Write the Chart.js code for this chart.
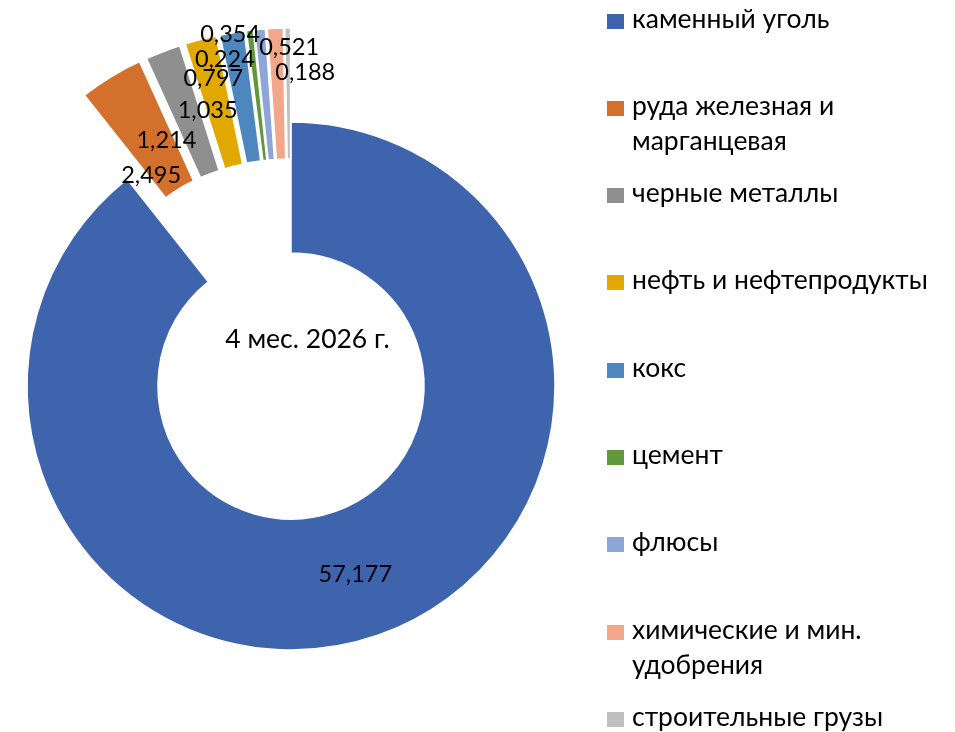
<!DOCTYPE html>
<html>
<head>
<meta charset="utf-8">
<script src="https://cdn.jsdelivr.net/npm/chart.js@4.4.1/dist/chart.umd.min.js"></script>
<style>
  html, body { margin: 0; padding: 0; background: #fff; }
  body { width: 955px; height: 732px; position: relative; overflow: hidden; font-family: Lato, "Noto Sans", sans-serif; }
  #wrap { position: absolute; left: 0; top: 0; width: 582px; height: 732px; }
  #legend { position: absolute; left: 0; top: 0; width: 955px; height: 732px; pointer-events: none; }
  .li { position: absolute; left: 607px; width: 340px; }
  .sw { position: absolute; left: 0; width: 17px; height: 15px; }
  .tx { position: absolute; left: 25px; width: 312px; font-size: 26.5px; line-height: 35px; color: #000; white-space: normal; }
</style>
</head>
<body>
<div id="wrap"><canvas id="c"></canvas></div>
<div id="legend"></div>
<script>
// ---- data ----
const categories = [
  'каменный уголь',
  'руда железная и марганцевая',
  'черные металлы',
  'нефть и нефтепродукты',
  'кокс',
  'цемент',
  'флюсы',
  'химические и мин. удобрения',
  'строительные грузы'
];
const values = [57.177, 2.495, 1.214, 1.035, 0.797, 0.224, 0.354, 0.521, 0.188];
const valueLabels = ['57,177', '2,495', '1,214', '1,035', '0,797', '0,224', '0,354', '0,521', '0,188'];
const centerTitle = '4 мес. 2026 г.';

// ---- style ----
const colors = ['#3E64AE', '#D3702C', '#8F8F8F', '#E1A800', '#4E87BF', '#62983C', '#8EA5D7', '#F2A68A', '#BFBFBF'];
const explodeShift = [0, 94, 60, 45, 45, 45, 45, 45, 45];   // translation of each slice
const explodeTurn  = [0, 4.5, 0, 0, 0, 0, 0, 0, 0];         // translation direction vs mid-angle (deg)
const explodeGrow  = [0, 0, 34, 49, 49, 49, 49, 49, 49];    // radial growth of each slice
const labelNudge = [[-1, 8.5], [6, 50], [-20, 35], [-9.5, 15], [-29.5, -11.5], [-32.5, -28.5], [-35.5, -52.5], [11, -39], [17, -13.5]];
const LABEL_FONT = '23.5px Lato';
const TITLE_FONT = '26.5px Lato';

function shiftVec(arc, i) {
  const mid = (arc.startAngle + arc.endAngle) / 2 + (explodeTurn[i] || 0) * Math.PI / 180;
  const sh = explodeShift[i] || 0;
  return [Math.cos(mid) * sh, Math.sin(mid) * sh];
}

const explodePlugin = {
  id: 'explode',
  beforeDatasetDraw(chart, args) {
    const ctx = chart.ctx;
    args.meta.data.forEach((arc, i) => {
      const gr = explodeGrow[i] || 0;
      const [dx, dy] = shiftVec(arc, i);
      ctx.save();
      ctx.translate(dx, dy);
      const ir = arc.innerRadius, or = arc.outerRadius;
      arc.innerRadius = ir + gr; arc.outerRadius = or + gr;
      arc.draw(ctx, chart.chartArea);
      arc.innerRadius = ir; arc.outerRadius = or;
      ctx.restore();
    });
    return false;
  },
  afterDatasetsDraw(chart) {
    const ctx = chart.ctx;
    const meta = chart.getDatasetMeta(0);
    ctx.save();
    ctx.fillStyle = '#000';
    ctx.textAlign = 'center';
    ctx.textBaseline = 'alphabetic';
    ctx.font = LABEL_FONT;
    let cx = 0, cy = 0;
    meta.data.forEach((arc, i) => {
      cx = arc.x; cy = arc.y;
      const mid = (arc.startAngle + arc.endAngle) / 2;
      const r = (arc.innerRadius + arc.outerRadius) / 2 + (explodeGrow[i] || 0);
      const [dx, dy] = shiftVec(arc, i);
      const x = arc.x + dx + Math.cos(mid) * r + labelNudge[i][0];
      const y = arc.y + dy + Math.sin(mid) * r + labelNudge[i][1];
      ctx.fillText(valueLabels[i], x, y);
    });
    ctx.font = TITLE_FONT;
    ctx.fillText(centerTitle, cx + 16.5, cy - 38);
    ctx.restore();
  }
};

const chart = new Chart(document.getElementById('c'), {
  type: 'doughnut',
  data: {
    labels: categories,
    datasets: [{
      data: values,
      backgroundColor: colors,
      borderColor: '#ffffff',
      borderWidth: 1.5,
      hoverOffset: 0
    }]
  },
  options: {
    responsive: true,
    maintainAspectRatio: false,
    animation: false,
    events: [],
    radius: 264,
    cutout: '50.4%',
    layout: { padding: { top: 40, left: 0, right: 0, bottom: 0 } },
    plugins: {
      legend: { display: false },
      tooltip: { enabled: false }
    }
  },
  plugins: [explodePlugin]
});

// HTML legend built from the chart's data
(function buildLegend() {
  const el = document.getElementById('legend');
  const first = 28.5, step = 87.3;
  chart.data.labels.forEach((lab, i) => {
    const li = document.createElement('div');
    li.className = 'li';
    const base = first + i * step;
    li.style.top = (base - 28) + 'px';
    const sw = document.createElement('div');
    sw.className = 'sw';
    sw.style.background = chart.data.datasets[0].backgroundColor[i];
    sw.style.top = '13px';
    const tx = document.createElement('div');
    tx.className = 'tx';
    tx.textContent = lab;
    li.appendChild(sw); li.appendChild(tx);
    el.appendChild(li);
  });
})();
</script>
</body>
</html>
